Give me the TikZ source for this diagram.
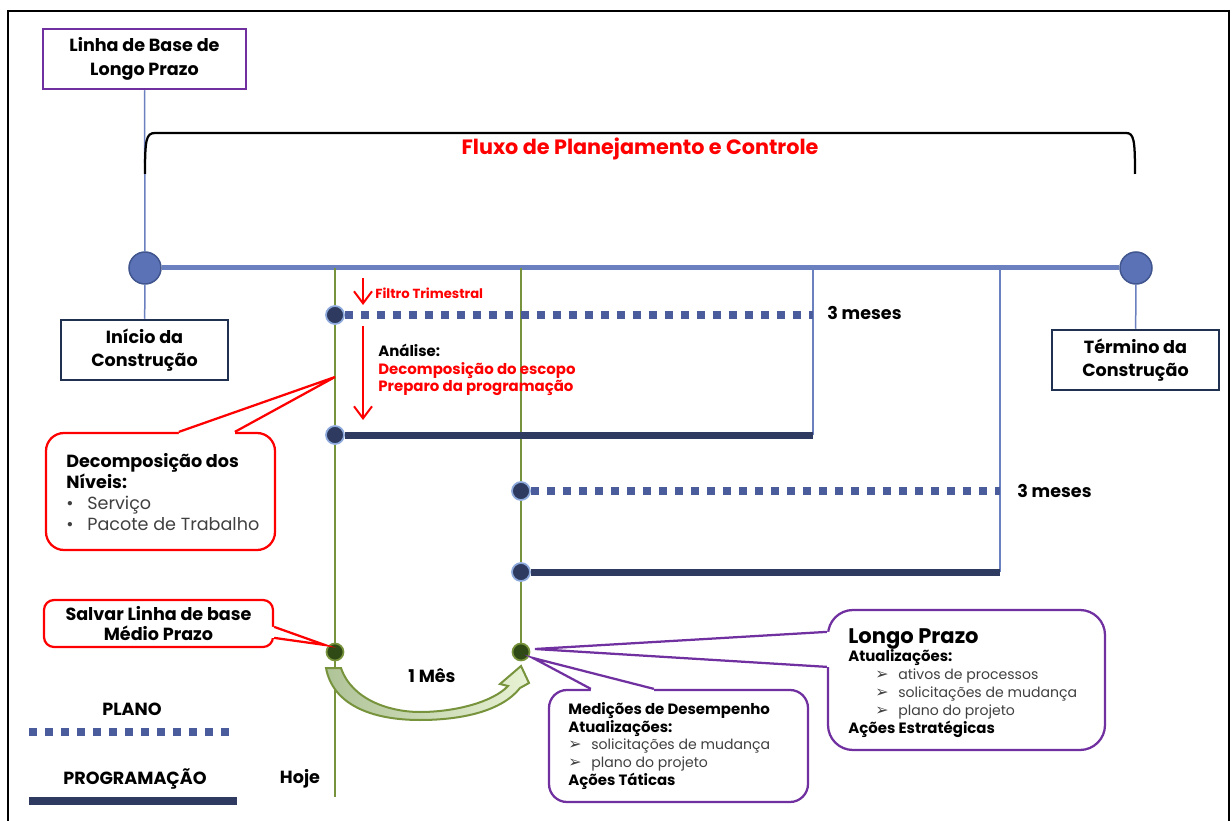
\documentclass[tikz,border=0pt]{standalone}
\usepackage{fontspec}
\setmainfont{Poppins}
\newfontfamily\symfont{DejaVu Sans}
\usepackage{xcolor}
\definecolor{planPurple}{HTML}{7030A0}
\definecolor{boxNavy}{HTML}{1F3050}
\definecolor{timeBlue}{HTML}{6A80BF}
\definecolor{circFill}{HTML}{5B72B6}
\definecolor{circEdge}{HTML}{41568F}
\definecolor{todayGreen}{HTML}{77933C}
\definecolor{planBlue}{HTML}{4A5C9B}
\definecolor{progNavy}{HTML}{2E3A5F}
\definecolor{dotEdge}{HTML}{8EA9DB}
\definecolor{dotGreen}{HTML}{2F4A14}
\definecolor{arrowLight}{HTML}{E8F2D4}
\definecolor{arrowDark}{HTML}{AFC398}
\definecolor{txtGray}{HTML}{404040}
\definecolor{alertRed}{HTML}{FF0000}
\usetikzlibrary{arrows.meta,calc,positioning}
\tikzset{
    ltbox/.style={
        draw=planPurple,
        fill=white,
        rectangle,
        line width=0.5mm,
        minimum width=40.6mm,
        minimum height=12mm,
        align=center,
        font=\fontsize{10}{13.4}\selectfont\bfseries
    },
    endbox/.style={
        draw=boxNavy,
        fill=white,
        rectangle,
        line width=0.5mm,
        minimum width=33.4mm,
        minimum height=12mm,
        align=center,
        font=\fontsize{10}{13.4}\selectfont\bfseries
    },
    endpt/.style={
        circle,
        draw=circEdge,
        fill=circFill,
        line width=0.3mm,
        minimum size=6.4mm,
        inner sep=0pt
    },
    plandot/.style={
        circle,
        draw=dotEdge,
        fill=progNavy,
        line width=0.35mm,
        minimum size=3.6mm,
        inner sep=0pt
    },
    todaydot/.style={
        circle,
        draw=todayGreen,
        fill=dotGreen,
        line width=0.35mm,
        minimum size=3.4mm,
        inner sep=0pt
    },
    timeline/.style={line width=1mm, color=timeBlue},
    thinblue/.style={line width=0.3mm, color=timeBlue},
    todayline/.style={line width=0.5mm, color=todayGreen},
    planline/.style={line width=1.6mm, color=planBlue, dash pattern=on 1.6mm off 1.6mm},
    progline/.style={line width=1.4mm, color=progNavy},
    filterarrow/.style={
        -{Straight Barb[length=2.4mm,width=3.6mm]},
        line width=0.4mm,
        color=alertRed
    },
    redcall/.style={
        draw=alertRed,
        fill=white,
        rectangle,
        line width=0.45mm,
        font=\fontsize{10}{11.8}\selectfont\bfseries
    },
    purplecall/.style={
        draw=planPurple,
        fill=white,
        rectangle,
        line width=0.45mm
    },
    calltxt/.style={align=left, anchor=west, inner sep=0pt},
    redptr/.style={draw=alertRed, line width=0.45mm, line join=miter},
    purpleptr/.style={draw=planPurple, line width=0.45mm, line join=miter},
    lbl/.style={font=\fontsize{10}{12}\selectfont\bfseries, inner sep=0pt}
}

\begin{document}
\begin{tikzpicture}[x=0.2mm,y=-0.2mm]
    \useasboundingbox (0,0) rectangle (1232,821);
    % frame
    \draw[line width=0.45mm] (8,840) -- (8,11) -- (1229,11) -- (1229,840);

    % start and end of the construction
    \node[ltbox] (ltbase) at (144.5,59) {Linha de Base de\\Longo Prazo};
    \node[endbox] (inicio) at (144.5,350) {Início da\\Construção};
    \node[endbox] (termino) at (1135.5,360) {Término da\\Construção};
    \node[endpt] (start) at (145,268) {};
    \node[endpt] (finish) at (1136,268) {};
    \draw[thinblue] (ltbase) -- (start);
    \draw[thinblue] (start) -- (inicio);
    \draw[thinblue] (finish) -- (termino);
    \draw[timeline] (start) -- (finish);

    % bracket and title
    \draw[line width=0.45mm] (145,174) .. controls (145,140) and (146,133) .. (155,133)
        -- (1126,133) .. controls (1134,133) and (1135,140) .. (1135,174);
    \node[font=\fontsize{11.8}{14}\selectfont\bfseries, text=alertRed] (title) at (640,149)
        {Fluxo de Planejamento e Controle};

    % points on the timeline
    \coordinate (t1) at (335,268);
    \coordinate (t2) at (521,268);
    \coordinate (t3) at (813,268);
    \coordinate (t4) at (1000,268);
    \coordinate (p1end) at (813,315);
    \coordinate (s1end) at (813,435);
    \coordinate (p2end) at (1000,491);
    \coordinate (s2end) at (1000,572);
    \coordinate (hojeend) at (335,797);

    % plan and schedule dots
    \node[plandot] (p1) at (335,315) {};
    \node[plandot] (s1) at (335,435) {};
    \node[plandot] (p2) at (521,491) {};
    \node[plandot] (s2) at (521,572) {};
    \node[todaydot] (g1) at (335,652) {};
    \node[todaydot] (g2) at (521,652) {};

    \draw[todayline] (t1) -- (p1) -- (s1) -- (g1) -- (hojeend);
    \draw[todayline] (t2) -- (p2) -- (s2) -- (g2);
    \draw[thinblue] (t3) -- (s1end);
    \draw[thinblue] (t4) -- (s2end);
    \draw[planline] (p1) -- (p1end);
    \draw[progline] (s1) -- (s1end);
    \draw[planline] (p2) -- (p2end);
    \draw[progline] (s2) -- (s2end);

    \node[lbl, anchor=west] (meses1) at (827,313) {3 meses};
    \node[lbl, anchor=west] (meses2) at (1017,491) {3 meses};

    % quarterly filter
    \coordinate (f1a) at (363,278);
    \coordinate (f1b) at (363,305);
    \coordinate (f2a) at (363,326);
    \coordinate (f2b) at (363,420);
    \draw[filterarrow] (f1a) -- (f1b);
    \draw[filterarrow] (f2a) -- (f2b);
    \node[font=\fontsize{7.5}{9}\selectfont\bfseries, text=alertRed, anchor=west, inner sep=0pt]
        (filtro) at (375,293) {Filtro Trimestral};
    \node[font=\fontsize{8.5}{9.8}\selectfont\bfseries, align=left, anchor=west, inner sep=0pt]
        (analise) at (378,370) {Análise:\\
        \textcolor{alertRed}{Decomposição do escopo}\\
        \textcolor{alertRed}{Preparo da programação}};

    % red callouts
    \coordinate (decpt) at (335,377);
    \node[redcall, rounded corners=3.6mm, minimum width=45.8mm, minimum height=23.4mm]
        (decbox) at (160.5,491.5) {};
    \fill[white] ($(decbox.north west)+(134,4)$) -- ($(decbox.north west)+(134,0)$) -- (decpt)
        -- ($(decbox.north west)+(190,0)$) -- ($(decbox.north west)+(190,4)$) -- cycle;
    \draw[redptr] ($(decbox.north west)+(134,0)$) -- (decpt) -- ($(decbox.north west)+(190,0)$);
    \node[calltxt, font=\fontsize{10}{11.8}\selectfont\bfseries] (dectxt) at (66,492)
        {Decomposição dos\\Níveis:\\
        {\mdseries\color{txtGray}\makebox[4.2mm][l]{•}Serviço}\\
        {\mdseries\color{txtGray}\makebox[4.2mm][l]{•}Pacote de Trabalho}};

    \coordinate (salvpt) at ($(g1)+(-10,-7)$);
    \node[redcall, rounded corners=2mm, minimum width=45.8mm, minimum height=9.4mm,
        align=center] (salvbox) at (158.5,623.5) {Salvar Linha de base\\Médio Prazo};
    \fill[white] ($(salvbox.north east)+(-4,28)$) -- ($(salvbox.north east)+(0,28)$) -- (salvpt)
        -- ($(salvbox.north east)+(0,39)$) -- ($(salvbox.north east)+(-4,39)$) -- cycle;
    \draw[redptr] ($(salvbox.north east)+(0,28)$) -- (salvpt) -- ($(salvbox.north east)+(0,39)$);

    % one month step
    \draw[todayline, line width=0.4mm, left color=arrowDark, right color=arrowLight]
        (326,668) -- (341,668)
        .. controls (352,700) and (390,712) .. (420,712)
        .. controls (455,712) and (493,702) .. (508,686)
        -- (500,684) -- (521,666) -- (529,683) -- (520,688)
        .. controls (502,711) and (462,720) .. (420,720)
        .. controls (372,720) and (333,705) .. (326,668) -- cycle;
    \node[lbl] (mes) at (432,676) {1 Mês};

    % purple callouts
    \coordinate (medpt) at ($(g2)+(12,6)$);
    \coordinate (longpt) at ($(g2)+(14,-3)$);
    \node[purplecall, rounded corners=3.6mm, minimum width=51.8mm, minimum height=22.4mm]
        (medbox) at (678.5,746) {};
    \fill[white] ($(medbox.north west)+(43,4)$) -- ($(medbox.north west)+(43,0)$) -- (medpt)
        -- ($(medbox.north west)+(106,0)$) -- ($(medbox.north west)+(106,4)$) -- cycle;
    \draw[purpleptr] ($(medbox.north west)+(43,0)$) -- (medpt) -- ($(medbox.north west)+(106,0)$);
    \node[calltxt, font=\fontsize{8.5}{10}\selectfont\bfseries] (medtxt) at (568,746)
        {Medições de Desempenho\\
        Atualizações:\\
        {\fontsize{8}{10}\selectfont\mdseries\color{txtGray}\makebox[4.6mm][l]{\symfont\small ➢}solicitações de mudança}\\
        {\fontsize{8}{10}\selectfont\mdseries\color{txtGray}\makebox[4.6mm][l]{\symfont\small ➢}plano do projeto}\\
        Ações Táticas};

    \node[purplecall, rounded corners=5mm, minimum width=55.4mm, minimum height=28mm]
        (longbox) at (966.5,680) {};
    \fill[white] ($(longbox.north west)+(4,23)$) -- ($(longbox.north west)+(0,23)$) -- (longpt)
        -- ($(longbox.north west)+(0,58)$) -- ($(longbox.north west)+(4,58)$) -- cycle;
    \draw[purpleptr] ($(longbox.north west)+(0,23)$) -- (longpt) -- ($(longbox.north west)+(0,58)$);
    \node[calltxt, font=\fontsize{8.5}{10.2}\selectfont\bfseries] (longtxt) at (848,683)
        {{\fontsize{12}{14}\selectfont Longo Prazo}\\
        Atualizações:\\
        {\fontsize{8}{10}\selectfont\mdseries\color{txtGray}\hspace*{5.4mm}\makebox[4.6mm][l]{\symfont\small ➢}ativos de processos}\\
        {\fontsize{8}{10}\selectfont\mdseries\color{txtGray}\hspace*{5.4mm}\makebox[4.6mm][l]{\symfont\small ➢}solicitações de mudança}\\
        {\fontsize{8}{10}\selectfont\mdseries\color{txtGray}\hspace*{5.4mm}\makebox[4.6mm][l]{\symfont\small ➢}plano do projeto}\\
        Ações Estratégicas};

    % legend
    \coordinate (lpa) at (29,732);
    \coordinate (lpb) at (237,732);
    \coordinate (lsa) at (29,801);
    \coordinate (lsb) at (237,801);
    \node[lbl] (plano) at (132,709) {PLANO};
    \draw[planline] (lpa) -- (lpb);
    \node[lbl] (prog) at (135,779) {PROGRAMAÇÃO};
    \draw[progline, line width=1.6mm] (lsa) -- (lsb);
    \node[lbl] (hoje) at (300,779) {Hoje};
\end{tikzpicture}
\end{document}
